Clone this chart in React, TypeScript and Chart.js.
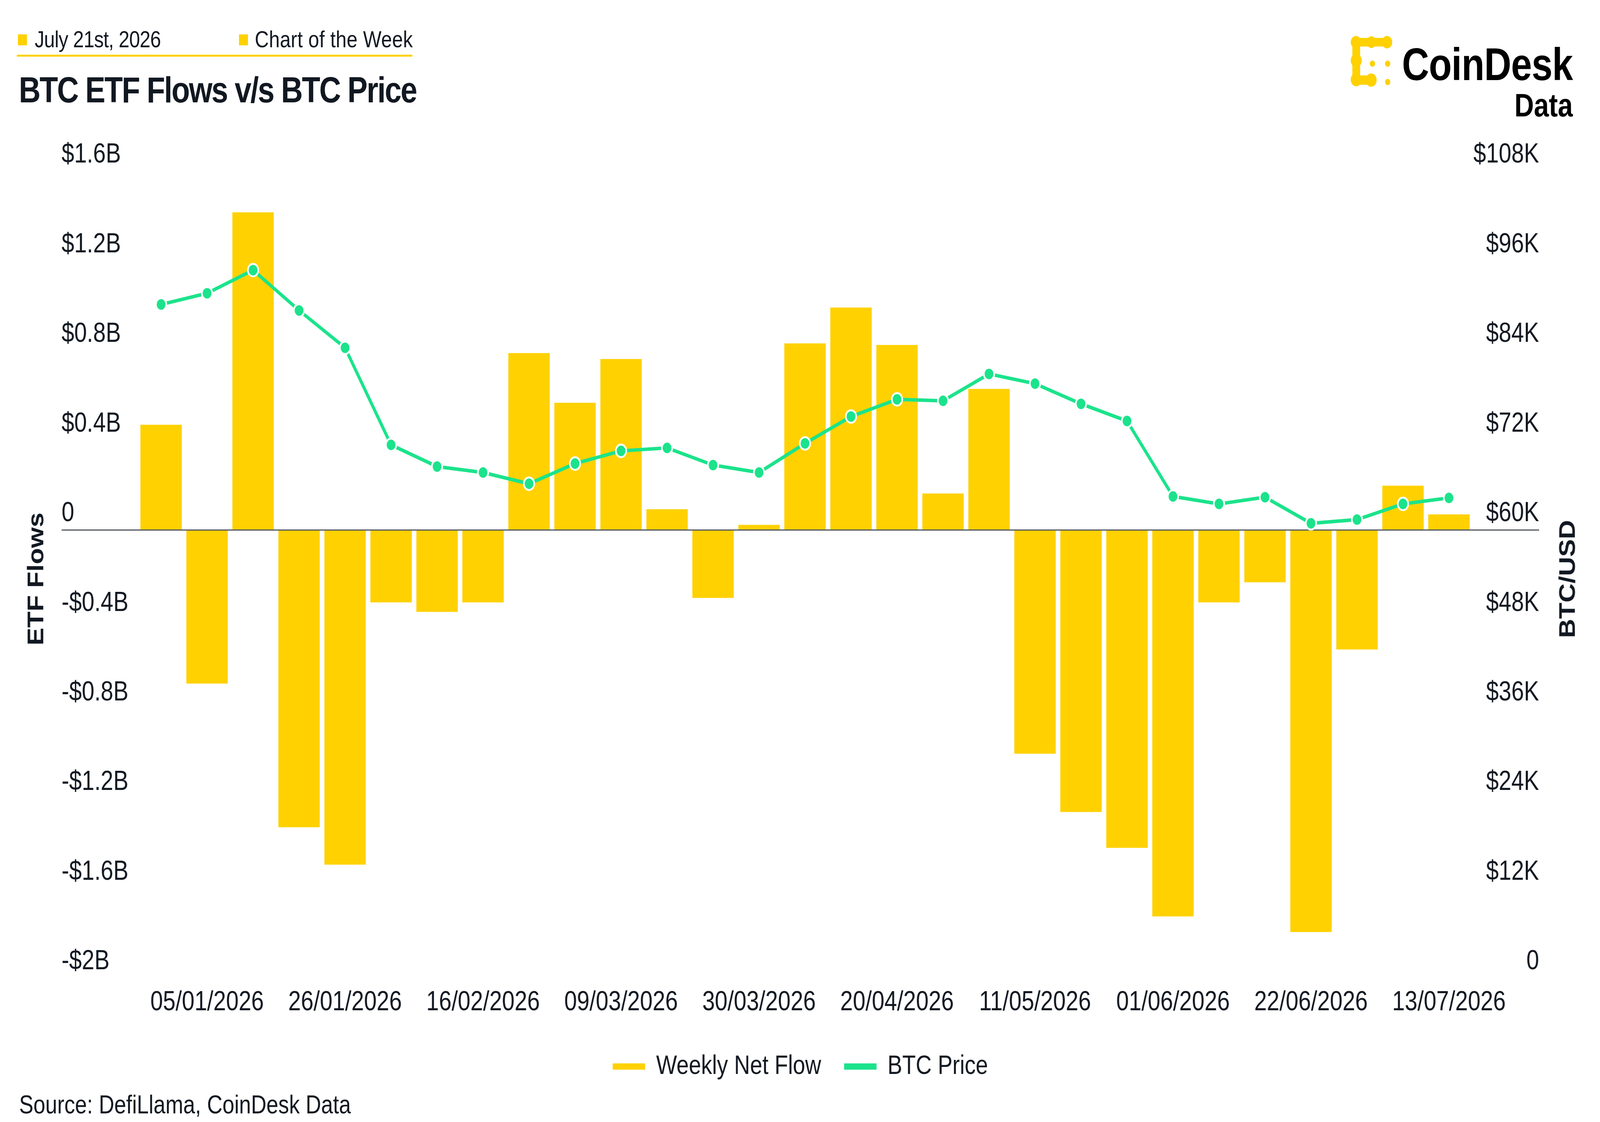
import React, { useEffect, useRef, useState } from "react";
import { Chart, registerables } from "chart.js";

Chart.register(...registerables);

// ---------- DATA ----------
const weekLabels: string[] = [
  "29/12/2025", "05/01/2026", "12/01/2026", "19/01/2026", "26/01/2026",
  "02/02/2026", "09/02/2026", "16/02/2026", "23/02/2026", "02/03/2026",
  "09/03/2026", "16/03/2026", "23/03/2026", "30/03/2026", "06/04/2026",
  "13/04/2026", "20/04/2026", "27/04/2026", "04/05/2026", "11/05/2026",
  "18/05/2026", "25/05/2026", "01/06/2026", "08/06/2026", "15/06/2026",
  "22/06/2026", "29/06/2026", "06/07/2026", "13/07/2026",
];

// Weekly net ETF flow, billions USD
const weeklyNetFlowB: number[] = [
  0.47, -0.685, 1.418, -1.326, -1.493, -0.323, -0.365, -0.323, 0.79, 0.568,
  0.763, 0.093, -0.303, 0.023, 0.833, 0.993, 0.826, 0.163, 0.63, -0.998,
  -1.258, -1.418, -1.724, -0.323, -0.233, -1.794, -0.533, 0.198, 0.07,
];

// BTC price, USD
const btcPriceUSD: number[] = [
  90200, 91700, 94800, 89400, 84400, 71400, 68500, 67700, 66200, 68900,
  70600, 71000, 68700, 67700, 71600, 75200, 77500, 77300, 80900, 79600,
  76900, 74600, 64500, 63500, 64400, 60900, 61400, 63500, 64300,
];

const flowAxis = { min: -2, max: 1.6, step: 0.4 };
const priceAxis = { min: 0, max: 108000, step: 12000 };

// ---------- STYLE ----------
const W = 4936;
const H = 2872;
const YELLOW = "#FFD100";
const GREEN = "#1BE38B";
const TEXT = "#111821";
const FONT = "'Liberation Sans', Arial, Helvetica, sans-serif";

const fmtFlow = (v: number) => {
  const r = Math.round(v * 10) / 10;
  if (r === 0) return "0";
  const a = Math.abs(r);
  const s = Number.isInteger(a) ? a.toFixed(0) : a.toFixed(1);
  return (r < 0 ? "-" : "") + "$" + s + "B";
};
const fmtPrice = (v: number) => (v === 0 ? "0" : "$" + Math.round(v / 1000) + "K");

const zeroLinePlugin = {
  id: "zeroLine",
  afterDatasetDraw(chart: any, args: any) {
    if (args.index !== 0) return;
    const y = chart.scales.y.getPixelForValue(0);
    const ctx = chart.ctx;
    ctx.save();
    ctx.strokeStyle = "#50555c";
    ctx.lineWidth = 3;
    ctx.beginPath();
    ctx.moveTo(chart.scales.y.left, y);
    ctx.lineTo(chart.scales.y1.right, y);
    ctx.stroke();
    ctx.restore();
  },
};

function FlowChart({ dpr }: { dpr: number }) {
  const ref = useRef<HTMLCanvasElement | null>(null);
  useEffect(() => {
    if (!ref.current) return;
    Chart.defaults.font.family = FONT;
    Chart.defaults.color = TEXT;
    const chart = new Chart(ref.current, {
      type: "bar",
      data: {
        labels: weekLabels,
        datasets: [
          {
            type: "bar",
            label: "Weekly Net Flow",
            data: weeklyNetFlowB,
            backgroundColor: YELLOW,
            borderWidth: 0,
            barPercentage: 0.9,
            categoryPercentage: 1,
            yAxisID: "y",
            order: 2,
          } as any,
          {
            type: "line",
            label: "BTC Price",
            data: btcPriceUSD,
            borderColor: GREEN,
            backgroundColor: GREEN,
            borderWidth: 9,
            pointRadius: 16,
            pointHoverRadius: 16,
            pointBackgroundColor: GREEN,
            pointBorderColor: "#ffffff",
            pointBorderWidth: 5,
            tension: 0,
            yAxisID: "y1",
            order: 1,
          } as any,
        ],
      },
      options: {
        animation: false,
        responsive: false,
        devicePixelRatio: dpr,
        layout: { padding: { left: 190, right: 188, top: 439, bottom: 98 } },
        plugins: {
          tooltip: { enabled: false },
          title: { display: false },
          legend: {
            position: "bottom",
            align: "center",
            labels: {
              boxWidth: 100,
              boxHeight: 16,
              padding: 71,
              color: TEXT,
              font: { size: 68, family: FONT },
              sort: (a: any, b: any) => a.datasetIndex - b.datasetIndex,
              generateLabels: (c: any) =>
                (Chart.defaults.plugins.legend.labels as any)
                  .generateLabels(c)
                  .map((it: any) => ({ ...it, lineWidth: 0 })),
            },
          },
        },
        scales: {
          x: {
            grid: { display: false, drawTicks: false },
            border: { display: false },
            ticks: {
              autoSkip: false,
              maxRotation: 0,
              minRotation: 0,
              padding: 21,
              color: TEXT,
              font: { size: 70, family: FONT },
              callback: (_v: any, i: number) => ((i - 1) % 3 === 0 ? weekLabels[i] : ""),
            },
            afterFit: (s: any) => {
              s.height = 121;
            },
          },
          y: {
            position: "left",
            min: flowAxis.min,
            max: flowAxis.max,
            grid: { display: false, drawTicks: false },
            border: { display: false },
            ticks: {
              stepSize: flowAxis.step,
              autoSkip: false,
              crossAlign: "far",
              padding: 30,
              labelOffset: -42,
              color: TEXT,
              font: { size: 70, family: FONT },
              callback: (v: any) => fmtFlow(Number(v)),
            },
            afterFit: (s: any) => {
              s.width = 236;
            },
          },
          y1: {
            position: "right",
            min: priceAxis.min,
            max: priceAxis.max,
            grid: { display: false, drawTicks: false },
            border: { display: false },
            ticks: {
              stepSize: priceAxis.step,
              autoSkip: false,
              crossAlign: "far",
              padding: 5,
              labelOffset: -42,
              color: TEXT,
              font: { size: 70, family: FONT },
              callback: (v: any) => fmtPrice(Number(v)),
            },
            afterFit: (s: any) => {
              s.width = 207;
            },
          },
        },
      } as any,
      plugins: [zeroLinePlugin],
    });
    return () => chart.destroy();
  }, [dpr]);
  return (
    <canvas
      ref={ref}
      width={W}
      height={H}
      style={{ position: "absolute", left: 0, top: 0, width: W, height: H }}
    />
  );
}

function Logo() {
  return (
    <svg
      width={145}
      height={145}
      viewBox="0 0 145 145"
      style={{ position: "absolute", left: 4160, top: 88 }}
    >
      <g fill={YELLOW}>
        {/* top row */}
        <circle cx={23} cy={20} r={16} />
        <circle cx={71} cy={20} r={15} />
        <circle cx={119} cy={20} r={16} />
        <rect x={23} y={9} width={96} height={22} />
        {/* left column */}
        <circle cx={24} cy={67} r={17} />
        <circle cx={24} cy={116} r={17} />
        <rect x={12} y={20} width={24} height={96} />
        {/* bottom row */}
        <circle cx={70} cy={117} r={17} />
        <rect x={24} y={105} width={46} height={24} />
        {/* dots */}
        <circle cx={74} cy={75} r={8} />
        <circle cx={121} cy={75} r={8} />
        <circle cx={121} cy={122} r={8} />
      </g>
    </svg>
  );
}

const getScale = () => {
  const w = window.innerWidth || document.documentElement.clientWidth || W;
  const h = window.innerHeight || document.documentElement.clientHeight || H;
  return { sx: w / W, sy: h / H };
};

export default function App() {
  const [sc, setSc] = useState(getScale());
  useEffect(() => {
    document.body.style.margin = "0";
    document.body.style.overflow = "hidden";
    const onResize = () => setSc(getScale());
    onResize();
    window.addEventListener("resize", onResize);
    return () => window.removeEventListener("resize", onResize);
  }, []);
  const dpr = Math.max(1, (window.devicePixelRatio || 1) * Math.max(sc.sx, sc.sy));
  const abs = (o: any) => ({
    position: "absolute" as const,
    whiteSpace: "nowrap" as const,
    lineHeight: 1,
    fontFamily: FONT,
    color: TEXT,
    ...o,
  });
  return (
    <div
      style={{
        position: "absolute",
        left: 0,
        top: 0,
        width: W * sc.sx,
        height: H * sc.sy,
        overflow: "hidden",
        background: "#ffffff",
      }}
    >
      <div
        style={{
          position: "absolute",
          left: 0,
          top: 0,
          width: W,
          height: H,
          transform: `scale(${sc.sx}, ${sc.sy})`,
          transformOrigin: "0 0",
          background: "#ffffff",
        }}
      >
        <FlowChart dpr={dpr} />
        {/* header */}
        <div style={{ position: "absolute", left: 55, top: 88, width: 28, height: 28, background: YELLOW }} />
        <div style={abs({ left: 107, top: 71, fontSize: 60, letterSpacing: -1 })}>July 21st, 2026</div>
        <div style={{ position: "absolute", left: 737, top: 88, width: 28, height: 28, background: YELLOW }} />
        <div style={abs({ left: 786, top: 71, fontSize: 60, letterSpacing: 0.3 })}>Chart of the Week</div>
        <div style={{ position: "absolute", left: 52, top: 140, width: 1220, height: 5, background: YELLOW }} />
        <div style={abs({ left: 58, top: 184, fontSize: 93, fontWeight: 700, letterSpacing: -3 })}>
          BTC ETF Flows v/s BTC Price
        </div>
        {/* logo */}
        <Logo />
        <div style={abs({ right: 84, top: 107, fontSize: 116, fontWeight: 700, letterSpacing: -1, color: "#000" })}>
          CoinDesk
        </div>
        <div style={abs({ right: 84, top: 228, fontSize: 83, fontWeight: 700, color: "#000" })}>Data</div>
        {/* axis titles */}
        <div
          style={abs({
            left: 110,
            top: 1482,
            fontSize: 68,
            fontWeight: 700,
            transform: "translate(-50%, -50%) rotate(-90deg)",
          })}
        >
          ETF Flows
        </div>
        <div
          style={abs({
            left: 4835,
            top: 1482,
            fontSize: 68,
            fontWeight: 700,
            transform: "translate(-50%, -50%) rotate(-90deg)",
          })}
        >
          BTC/USD
        </div>
        {/* source */}
        <div style={abs({ left: 59, top: 2794, fontSize: 66 })}>Source: DefiLlama, CoinDesk Data</div>
      </div>
    </div>
  );
}
